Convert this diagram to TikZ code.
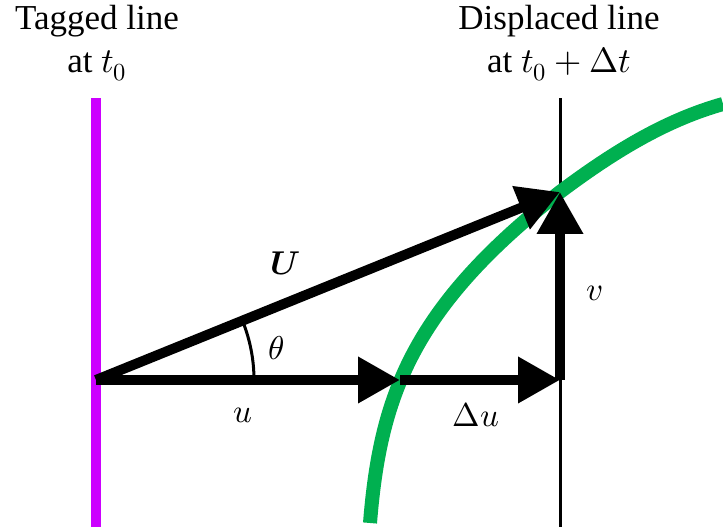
\documentclass[tikz,border=0pt]{standalone}
\usepackage{amsmath}
\usepackage{unicode-math}
\setmainfont{Liberation Serif}
\setmathfont{latinmodern-math.otf}
\usetikzlibrary{calc, positioning}
\usetikzlibrary{arrows.meta}

\definecolor{tagmagenta}{RGB}{204,0,255}
\definecolor{flowgreen}{RGB}{0,176,80}

\tikzset{
  vec/.style={line width=10pt, -{Triangle[length=42pt,width=44pt]}},
  lbl/.style={font=\fontsize{33}{40}\selectfont},
  title/.style={align=center, font=\fontsize{35}{43}\selectfont},
}

\begin{document}
\begin{tikzpicture}[x=1pt,y=1pt,line join=miter]
\path[use as bounding box] (0,0) rectangle (723,529);

\coordinate (O) at (96,149);
\coordinate (P) at (400,149);
\coordinate (Q) at (560,149);
\coordinate (R) at (560,337);
\coordinate (Ttop) at (96,431);
\coordinate (Tbot) at (96,2);
\coordinate (Dtop) at (560,431);
\coordinate (Dbot) at (560,2);

% tagged and displaced lines
\draw[tagmagenta,line width=10pt] (Tbot) -- (Ttop);
\draw[black,line width=3pt] (Dbot) -- (Dtop);

% streak curve
\draw[flowgreen,line width=14pt]
  (370,6) .. controls (380,130) and (410,220) .. (R)
  .. controls (620,382) and (670,410) .. (723,425);

% velocity components
\draw[vec] (O) -- (P);
\draw[vec] (P) -- (Q);
\draw[vec] (Q) -- (R);
\draw[vec] (O) -- (R);

% angle
\draw[line width=3pt] ($(O)+(158,0)$) arc[start angle=0,end angle=22.06,radius=158];

\node[lbl] (Ulbl) at (285,266) {$\symbfit{U}$};
\node[lbl] (thlbl) at (276,181) {$\theta$};
\node[lbl] (ulbl) at (243,114) {$u$};
\node[lbl] (dulbl) at (476,114) {$\Delta u$};
\node[lbl] (vlbl) at (595,236) {$v$};

\node[title] (tagged) at (97,486) {Tagged line\\at $t_0$};
\node[title] (displaced) at (559,486) {Displaced line\\at $t_0+\Delta t$};
\end{tikzpicture}
\end{document}
